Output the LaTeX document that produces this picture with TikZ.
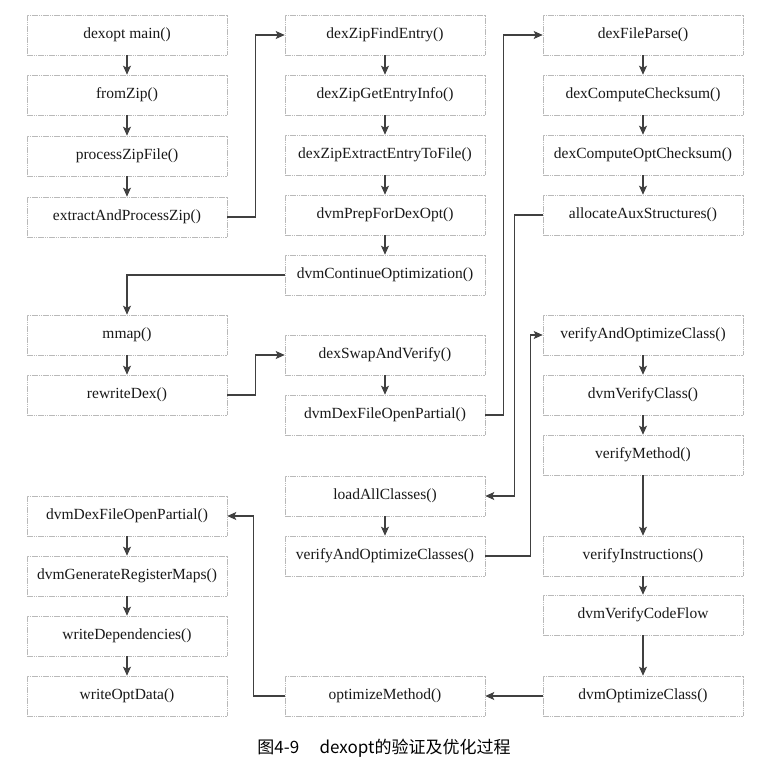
\documentclass[tikz,border=0pt]{standalone}
\usepackage{fontspec}
\setmainfont{Liberation Serif}
\newfontfamily\cjk{Noto Sans CJK SC}
\usetikzlibrary{arrows.meta}
\begin{document}
\begin{tikzpicture}[x=1pt,y=-1pt,
  fbox/.style={draw=gray!55, line width=0.6pt, dash pattern=on 1.6pt off 0.6pt,
    minimum width=200pt, minimum height=40pt, inner sep=0pt,
    text=black!90, font=\fontsize{15.5}{18}\selectfont},
  conn/.style={draw=black!75, line width=1.1pt,
    -{Stealth[length=9pt,width=8pt,inset=2pt]}},
  plain/.style={draw=black!75, line width=1.1pt}]
\useasboundingbox[fill=white] (0,0) rectangle (770,771);
% column 1
\node[fbox] (main) at (127,35) {dexopt main()};
\node[fbox] (fromzip) at (127,95) {fromZip()};
\node[fbox] (pzf) at (127,156) {processZipFile()};
\node[fbox] (eapz) at (127,217) {extractAndProcessZip()};
\node[fbox] (mmap) at (127,335) {mmap()};
\node[fbox] (rwd) at (127,395) {rewriteDex()};
\node[fbox] (dfopL) at (127,516) {dvmDexFileOpenPartial()};
\node[fbox] (grm) at (127,576) {dvmGenerateRegisterMaps()};
\node[fbox] (wdep) at (127,636) {writeDependencies()};
\node[fbox] (wopt) at (127,696) {writeOptData()};
% column 2
\node[fbox] (zfe) at (385,35) {dexZipFindEntry()};
\node[fbox] (zgei) at (385,95) {dexZipGetEntryInfo()};
\node[fbox] (zeetf) at (385,155) {dexZipExtractEntryToFile()};
\node[fbox] (prep) at (385,215) {dvmPrepForDexOpt()};
\node[fbox] (cont) at (385,275) {dvmContinueOptimization()};
\node[fbox] (swap) at (385,355) {dexSwapAndVerify()};
\node[fbox] (dfopM) at (385,415) {dvmDexFileOpenPartial()};
\node[fbox] (lac) at (385,496) {loadAllClasses()};
\node[fbox] (vaocs) at (385,556) {verifyAndOptimizeClasses()};
\node[fbox] (om) at (385,696) {optimizeMethod()};
% column 3
\node[fbox] (dfp) at (643,35) {dexFileParse()};
\node[fbox] (dcc) at (643,95) {dexComputeChecksum()};
\node[fbox] (dcoc) at (643,155) {dexComputeOptChecksum()};
\node[fbox] (aas) at (643,215) {allocateAuxStructures()};
\node[fbox] (vaoc) at (643,335) {verifyAndOptimizeClass()};
\node[fbox] (dvc) at (643,395) {dvmVerifyClass()};
\node[fbox] (vm) at (643,455) {verifyMethod()};
\node[fbox] (vi) at (643,556) {verifyInstructions()};
\node[fbox] (vcf) at (643,615) {dvmVerifyCodeFlow};
\node[fbox] (doc) at (643,696) {dvmOptimizeClass()};
% caption
\node[font=\cjk\fontsize{17}{20}\selectfont, text=black] (cap) at (384,748) {图4-9\hspace{1.2em}dexopt的验证及优化过程};
% vertical chains
\draw[conn] (main) -- (fromzip);
\draw[conn] (fromzip) -- (pzf);
\draw[conn] (pzf) -- (eapz);
\draw[conn] (mmap) -- (rwd);
\draw[conn] (dfopL) -- (grm);
\draw[conn] (grm) -- (wdep);
\draw[conn] (wdep) -- (wopt);
\draw[conn] (zfe) -- (zgei);
\draw[conn] (zgei) -- (zeetf);
\draw[conn] (zeetf) -- (prep);
\draw[conn] (prep) -- (cont);
\draw[conn] (swap) -- (dfopM);
\draw[conn] (lac) -- (vaocs);
\draw[conn] (dfp) -- (dcc);
\draw[conn] (dcc) -- (dcoc);
\draw[conn] (dcoc) -- (aas);
\draw[conn] (vaoc) -- (dvc);
\draw[conn] (dvc) -- (vm);
\draw[conn] (vm) -- (vi);
\draw[conn] (vi) -- (vcf);
\draw[conn] (vcf) -- (doc);
% elbow connectors
\draw[conn] (eapz.east) -- ++(28,0) |- (zfe.west);
\draw[conn] (cont.west) -| (mmap.north);
\draw[conn] (rwd.east) -- ++(28,0) |- (swap.west);
\draw[conn] (dfopM.east) -- ++(18,0) |- (dfp.west);
\draw[conn] (aas.west) -- ++(-28,0) |- (lac.east);
\draw[conn] (vaocs.east) -- ++(45,0) |- (vaoc.west);
\draw[conn] (doc.west) -- (om.east);
\draw[conn] (om.west) -- ++(-31,0) |- (dfopL.east);
\end{tikzpicture}
\end{document}
